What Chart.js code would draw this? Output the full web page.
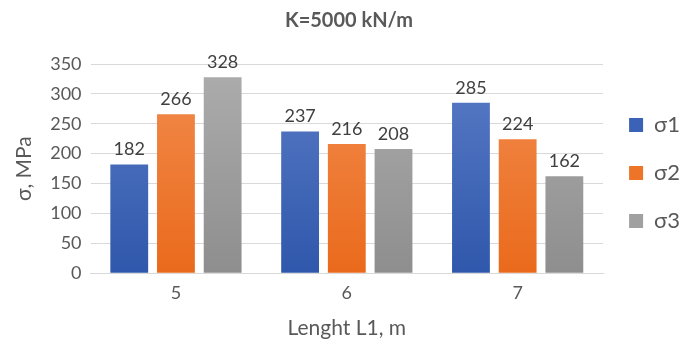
<!DOCTYPE html>
<html><head><meta charset="utf-8">
<script src="https://cdn.jsdelivr.net/npm/chart.js@4"></script>
<style>html,body{margin:0;padding:0;background:#fff}#wrap{width:690px;height:341px}</style>
</head><body><div id="wrap"><canvas id="c" width="690" height="341"></canvas></div>
<script>
const categories = ["5", "6", "7"];
const sigma1 = [182, 237, 285];
const sigma2 = [266, 216, 224];
const sigma3 = [328, 208, 162];
const seriesNames = ["σ1", "σ2", "σ3"];
const yTicks = [0, 50, 100, 150, 200, 250, 300, 350];

const FONT = "Lato, 'Open Sans', sans-serif";
const grads = [["#5a7cc6", "#2f57ab"], ["#f28c4e", "#ea6a1c"], ["#adadad", "#8e8e8e"]];
const solid = ["#3a62b6", "#ee7428", "#a0a0a0"];

function gradFor(i) {
  return function(ctx) {
    const ch = ctx.chart;
    const a = ch.chartArea;
    if (!a) return solid[i];
    const g = ch.ctx.createLinearGradient(0, a.top, 0, a.bottom);
    g.addColorStop(0, grads[i][0]);
    g.addColorStop(1, grads[i][1]);
    return g;
  };
}

const labelPlugin = {
  id: 'vlabels',
  afterDatasetsDraw(chart) {
    const ctx = chart.ctx;
    ctx.save();
    ctx.font = "18px " + FONT;
    ctx.fillStyle = "#404040";
    ctx.textAlign = "center";
    ctx.textBaseline = "bottom";
    chart.data.datasets.forEach((ds, di) => {
      chart.getDatasetMeta(di).data.forEach((bar, i) => {
        ctx.fillText(String(ds.data[i]), bar.x, bar.y - 6);
      });
    });
    ctx.restore();
  }
};

new Chart(document.getElementById('c'), {
  type: 'bar',
  data: {
    labels: categories,
    datasets: [sigma1, sigma2, sigma3].map((d, i) => ({
      label: seriesNames[i],
      data: d,
      backgroundColor: gradFor(i),
      borderWidth: 0,
      categoryPercentage: 0.82,
      barPercentage: 0.81
    }))
  },
  options: {
    responsive: false,
    animation: false,
    devicePixelRatio: 1,
    layout: { padding: { left: 8, right: 0, top: 5, bottom: 0 } },
    plugins: {
      title: {
        display: true, text: "K=5000 kN/m", color: "#595959",
        font: { family: FONT, size: 20, weight: 'bold' },
        padding: { top: 4, bottom: 31 }
      },
      legend: {
        position: 'right',
        labels: {
          color: "#595959", font: { family: FONT, size: 22 },
          boxWidth: 14, boxHeight: 14, padding: 26,
          generateLabels(chart) {
            return seriesNames.map((n, i) => ({
              text: n, fillStyle: solid[i], strokeStyle: solid[i], lineWidth: 0,
              fontColor: "#595959", datasetIndex: i, hidden: false
            }));
          }
        }
      },
      tooltip: { enabled: false }
    },
    scales: {
      x: {
        grid: { display: false, drawTicks: false },
        border: { color: "#d9d9d9" },
        ticks: { color: "#595959", font: { family: FONT, size: 18 }, padding: 9 },
        title: { display: true, text: "Lenght L1, m", color: "#595959",
                 font: { family: FONT, size: 21 }, padding: { top: 3, bottom: 0 } }
      },
      y: {
        min: 0, max: 350,
        afterBuildTicks(axis) { axis.ticks = yTicks.map(v => ({ value: v })); },
        grid: { color: "#d9d9d9", drawTicks: false },
        border: { display: false },
        ticks: { color: "#595959", font: { family: FONT, size: 18 }, padding: 9 },
        title: { display: true, text: "σ, MPa", color: "#595959",
                 font: { family: FONT, size: 21 }, padding: { bottom: 4 } }
      }
    }
  },
  plugins: [labelPlugin]
});
</script></body></html>
